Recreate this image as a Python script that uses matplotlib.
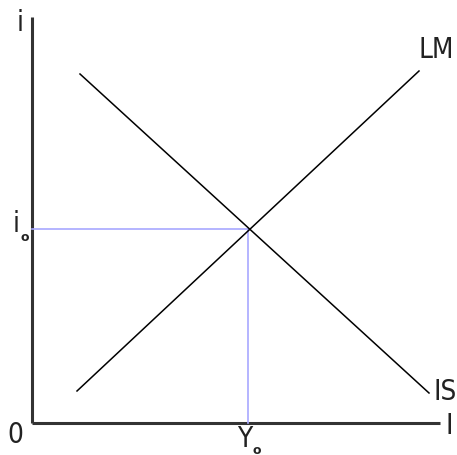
import matplotlib.pyplot as plt

# IS-LM diagram, units are arbitrary (origin at 0,0)
lm_x = [45, 387]
lm_y = [32, 352]
is_x = [48, 397]
is_y = [349, 30]
y0 = 216
i0 = 194
x_end = 408
y_end = 406

fig = plt.figure(figsize=(4.57, 4.56), dpi=100)
ax = fig.add_axes([0, 0, 1, 1])
ax.set_xlim(-32, 425)
ax.set_ylim(-32, 424)
ax.axis('off')

# axes
ax.plot([0, 0], [0, y_end], color='#333333', lw=2.2, solid_capstyle='butt')
ax.plot([0, x_end], [0, 0], color='#333333', lw=2.2, solid_capstyle='butt')

# guide lines
ax.plot([0, y0], [i0, i0], color='#a8a8ff', lw=1.2)
ax.plot([y0, y0], [0, i0], color='#a8a8ff', lw=1.2)

# curves
ax.plot(lm_x, lm_y, color='black', lw=1.1)
ax.plot(is_x, is_y, color='black', lw=1.1)

font = dict(family='DejaVu Sans', stretch='condensed', fontsize=20, color='#222222')
sub = dict(family='DejaVu Sans', fontsize=9, fontweight='bold', color='#222222')
ax.text(-12, 401, 'i', ha='center', va='center', **font)
ax.text(-17, -11, '0', ha='center', va='center', **font)
ax.text(417, -2, 'I', ha='center', va='center', **font)
ax.text(404, 374, 'LM', ha='center', va='center', **font)
ax.text(413, 32, 'IS', ha='center', va='center', **font)
ax.text(-16, 200, 'i', ha='center', va='center', **font)
ax.text(-7, 186, 'o', ha='center', va='center', **sub)
ax.text(y0 - 3, -15, 'Y', ha='center', va='center', **font)
ax.text(y0 + 9, -27, 'o', ha='center', va='center', **sub)

plt.savefig('out.png')
